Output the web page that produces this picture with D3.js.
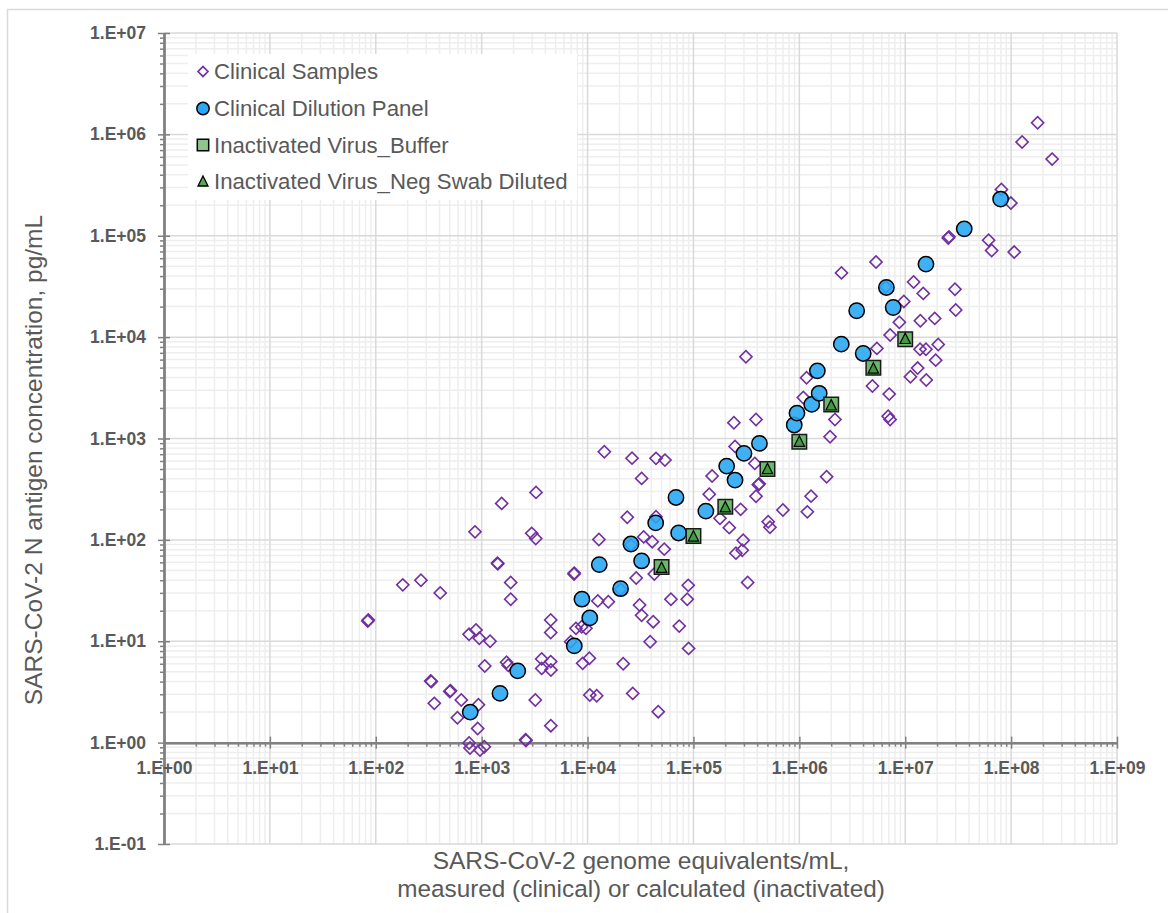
<!DOCTYPE html>
<html><head><meta charset="utf-8">
<script src="https://cdn.jsdelivr.net/npm/d3@7"></script>
<style>
body{margin:0;background:#fff;}
svg{display:block;}
text{font-family:"Liberation Sans",Arial,sans-serif;}
</style>
</head><body>
<svg id="chart" width="1168" height="913"></svg>
<script>
// ---------- DATA ----------
const xTickValues = [1,1e1,1e2,1e3,1e4,1e5,1e6,1e7,1e8,1e9];
const yTickValues = [1e-1,1,1e1,1e2,1e3,1e4,1e5,1e6,1e7];
const xTickLabels = ["1.E+00","1.E+01","1.E+02","1.E+03","1.E+04","1.E+05","1.E+06","1.E+07","1.E+08","1.E+09"];
const yTickLabels = ["1.E-01","1.E+00","1.E+01","1.E+02","1.E+03","1.E+04","1.E+05","1.E+06","1.E+07"];

const seriesNames = ["Clinical Samples","Clinical Dilution Panel","Inactivated Virus_Buffer","Inactivated Virus_Neg Swab Diluted"];

// Clinical Samples [genome eq/mL, pg/mL]
const clinicalSamples = [
[85,16.2],[84,15.8],[180,36],[267,40],[406,30],[865,120],[1410,59],[1420,58],
[760,11.7],[884,12.9],[950,10.7],[1200,10],[1070,5.7],[330,4.05],[335,4.0],[508,3.25],[500,3.2],
[357,2.44],[642,2.63],[933,2.36],[590,1.76],[917,1.38],[760,0.99],[776,0.885],[964,0.845],[1060,0.91],
[2600,1.07],[2620,1.05],[4500,1.47],
[1.44e4,740],[2.63e4,640],[4.43e4,637],[5.38e4,612],[3.24e4,404],[3260,294],[1545,229],[2970,116],[3240,103],
[1880,38],[1880,26],[7490,47],[7450,46],[1.28e4,101],[2.37e4,167],[4.43e4,169],[3.39e4,107],[4.08e4,96],[5.3e4,81],
[2.88e4,42],[4.27e4,46],[8.93e4,35.6],[8.74e4,26],[6.13e4,26],[1.25e4,25],[1.57e4,24.5],[3.1e4,22.8],[3.24e4,18],
[4.17e4,15.6],[7.34e4,14.1],[3.9e4,9.9],[9.0e4,8.5],[2.05e4,32.5],[4490,16.2],[4490,12.2],[7770,13.4],[8800,13.9],
[9660,13.4],[6930,9.9],[1.04e4,6.8],[8990,6.05],[2.17e4,6.0],[2.67e4,3.06],[4.65e4,2.02],[1.05e4,2.95],[1.22e4,2.9],
[3690,6.7],[4490,6.3],[3690,5.4],[4510,5.2],[3210,2.63],[1720,6.2],[1780,5.8],[2.57e4,89],
[6.55e7,7.16e4],[5.3e6,5.5e4],[2.5e6,4.3e4],[1.2e7,3.5e4],[1.48e7,2.7e4],[2.95e7,2.97e4],[9.7e6,2.25e4],[3.0e7,1.85e4],
[8.8e6,1.4e4],[1.39e7,1.45e4],[1.9e7,1.53e4],[7.2e6,1.05e4],[5.4e6,7740],[1.38e7,7600],[1.57e7,7600],[2.05e7,8470],
[1.94e7,5930],[1.31e7,4950],[1.12e7,4060],[1.58e7,3770],[4.9e6,3290],[7.06e6,2740],[3.13e5,6400],[1.17e6,3970],
[1.09e6,2540],[2.17e6,1540],[1.95e6,1040],[6.9e6,1660],[7.2e6,1540],[2.41e5,1430],[3.9e5,1540],[2.47e5,836],
[3.8e5,568],[4.18e5,357],[4.1e5,350],[3.9e5,269],[1.5e5,426],[1.41e5,282],[1.81e6,419],[1.29e6,270],[7.0e5,197],
[1.19e6,189],[2.79e5,200],[1.78e5,163],[2.18e5,132],[5.08e5,151],[5.28e5,133],[2.95e5,99],[2.89e5,79],[2.52e5,74],
[3.25e5,38],[6.57e6,3.13e4],[1.78e8,1.3e6],[1.27e8,8.4e5],[2.44e8,5.7e5],[8.1e7,2.86e5],[9.95e7,2.1e5],
[2.59e7,9.75e4],[2.55e7,9.5e4],[6.13e7,9.05e4],[1.07e8,6.9e4]
];

// Clinical Dilution Panel
const dilutionPanel = [
[780,2.0],[1490,3.06],[2190,5.1],[7490,9.0],[8850,26],[1.05e4,17],[1.29e4,57],[2.05e4,33],[2.57e4,91],
[3.24e4,62],[4.4e4,147],[6.84e4,262],[7.25e4,117],[1.31e5,192],[2.06e5,534],[2.47e5,389],[3.0e5,713],
[4.2e5,895],[8.95e5,1360],[9.5e5,1780],[1.31e6,2170],[1.48e6,4650],[1.54e6,2790],[2.49e6,8530],
[3.48e6,1.82e4],[4.01e6,6900],[6.64e6,3.09e4],[7.7e6,1.96e4],[1.57e7,5.25e4],[3.61e7,1.17e5],[7.96e7,2.3e5]
];

// Inactivated virus
const virusX = [5e4,1e5,2e5,5e5,1e6,2e6,5e6,1e7];
const virusBufferY = [54,109,212,499,928,2170,4980,9550];
const virusNegSwabY = [53,108,210,500,930,2120,4900,9600];

// ---------- CHART ----------
const svg = d3.select("#chart");
const x = d3.scaleLog().domain([1,1e9]).range([164,1117]);
const y = d3.scaleLog().domain([0.1,1e7]).range([844,33]);
const axisColor = "#808080", textColor = "#595959";

// outer chart border
svg.append("rect").attr("x",7.5).attr("y",9.5).attr("width",1200).attr("height",960)
  .attr("fill","#fff").attr("stroke","#d9d9d9").attr("stroke-width",1.5);

const isMajor = v => Math.abs(Math.log10(v) - Math.round(Math.log10(v))) < 1e-9;
const xAll = x.ticks(); const yAll = y.ticks();
const xMinor = xAll.filter(v => !isMajor(v));
const yMinor = yAll.filter(v => !isMajor(v));

const grid = svg.append("g");
grid.selectAll(".vmin").data(xMinor).join("line")
  .attr("x1",d=>x(d)).attr("x2",d=>x(d)).attr("y1",y(1e7)).attr("y2",y(0.1))
  .attr("stroke","#eeeeee").attr("stroke-width",1.5);
grid.selectAll(".hmin").data(yMinor).join("line")
  .attr("y1",d=>y(d)).attr("y2",d=>y(d)).attr("x1",x(1)).attr("x2",x(1e9))
  .attr("stroke","#eeeeee").attr("stroke-width",1.5);
grid.selectAll(".vmaj").data(xTickValues).join("line")
  .attr("x1",d=>x(d)).attr("x2",d=>x(d)).attr("y1",y(1e7)).attr("y2",y(0.1))
  .attr("stroke","#d9d9d9").attr("stroke-width",1.5);
grid.selectAll(".hmaj").data(yTickValues).join("line")
  .attr("y1",d=>y(d)).attr("y2",d=>y(d)).attr("x1",x(1)).attr("x2",x(1e9))
  .attr("stroke","#d9d9d9").attr("stroke-width",1.5);

// axes
const y0 = y(1);
const yAxis = d3.axisLeft(y).tickValues(yTickValues)
  .tickFormat((d,i)=>yTickLabels[i]).tickSize(6).tickSizeOuter(0).tickPadding(12);
const yAxisMinor = d3.axisLeft(y).tickValues(yMinor).tickFormat("").tickSize(4).tickSizeOuter(0);
const xAxis = d3.axisBottom(x).tickValues(xTickValues)
  .tickFormat((d,i)=>xTickLabels[i]).tickSize(6).tickSizeOuter(0).tickPadding(13);
const xAxisMinor = d3.axisBottom(x).tickValues(xMinor).tickFormat("").tickSize(4).tickSizeOuter(0);
const xAxisInner = d3.axisTop(x).tickValues(xTickValues).tickFormat("").tickSize(6).tickSizeOuter(0);
const yAxisInner = d3.axisRight(y).tickValues(yTickValues).tickFormat("").tickSize(6).tickSizeOuter(0);

function styleAxis(g){
  g.select(".domain").attr("stroke",axisColor).attr("stroke-width",2);
  g.selectAll(".tick line").attr("stroke",axisColor).attr("stroke-width",1.5);
  g.selectAll("text").attr("fill",textColor).attr("font-size","17.5px").attr("font-weight","bold")
   .attr("font-family","'Liberation Sans',Arial,sans-serif");
}
svg.append("g").attr("transform",`translate(${x(1)},0)`).call(yAxisMinor).call(styleAxis);
svg.append("g").attr("transform",`translate(${x(1)},0)`).call(yAxisInner).call(styleAxis);
svg.append("g").attr("transform",`translate(${x(1)},0)`).call(yAxis).call(styleAxis);
svg.append("g").attr("transform",`translate(0,${y0})`).call(xAxisMinor).call(styleAxis);
svg.append("g").attr("transform",`translate(0,${y0})`).call(xAxisInner).call(styleAxis);
svg.append("g").attr("transform",`translate(0,${y0})`).call(xAxis).call(styleAxis);

// axis titles
svg.append("text").attr("transform",`translate(42,460) rotate(-90)`)
  .attr("text-anchor","middle").attr("fill",textColor).attr("font-size","24.5px")
  .text("SARS-CoV-2 N antigen concentration, pg/mL");
svg.append("text").attr("x",641).attr("y",869).attr("text-anchor","middle")
  .attr("fill",textColor).attr("font-size","24.5px").text("SARS-CoV-2 genome equivalents/mL,");
svg.append("text").attr("x",641).attr("y",897).attr("text-anchor","middle")
  .attr("fill",textColor).attr("font-size","24.3px").text("measured (clinical) or calculated (inactivated)");

// markers
const diamondPath = d3.symbol(d3.symbolSquare, 74)();
const circlePath = d3.symbol(d3.symbolCircle, 185)();
const squarePath = d3.symbol(d3.symbolSquare, 210)();
const triPath = "M0,-5.8L5.2,4.6L-5.2,4.6Z";

const marks = svg.append("g");
marks.selectAll(".cs").data(clinicalSamples).join("path")
  .attr("d",diamondPath)
  .attr("transform",d=>`translate(${x(d[0])},${y(d[1])}) rotate(45)`)
  .attr("fill","none").attr("stroke","#7030a0").attr("stroke-width",1.6);
marks.selectAll(".dp").data(dilutionPanel).join("path")
  .attr("d",circlePath)
  .attr("transform",d=>`translate(${x(d[0])},${y(d[1])})`)
  .attr("fill","#27a6f5").attr("fill-opacity",0.88).attr("stroke","#000").attr("stroke-width",1.5);
marks.selectAll(".vb").data(virusX.map((v,i)=>[v,virusBufferY[i]])).join("path")
  .attr("d",squarePath)
  .attr("transform",d=>`translate(${x(d[0])},${y(d[1])})`)
  .attr("fill","#6db86d").attr("stroke","#1a1a1a").attr("stroke-width",1.5);
marks.selectAll(".vn").data(virusX.map((v,i)=>[v,virusNegSwabY[i]])).join("path")
  .attr("d",triPath)
  .attr("transform",d=>`translate(${x(d[0])},${y(d[1])})`)
  .attr("fill","#3f9a3f").attr("stroke","#000").attr("stroke-width",1.2);

// legend
const lg = svg.append("g");
lg.append("rect").attr("x",188).attr("y",54).attr("width",389).attr("height",146).attr("fill","#fff");
const legendY = [71.5,108.5,145,181.5];
const lx = 203;
lg.append("path").attr("d",d3.symbol(d3.symbolSquare,50)()).attr("transform",`translate(${lx},${legendY[0]}) rotate(45)`)
  .attr("fill","none").attr("stroke","#7030a0").attr("stroke-width",1.6);
lg.append("path").attr("d",d3.symbol(d3.symbolCircle,120)()).attr("transform",`translate(${lx},${legendY[1]})`)
  .attr("fill","#2ba8f5").attr("stroke","#000").attr("stroke-width",1.5);
lg.append("path").attr("d",d3.symbol(d3.symbolSquare,130)()).attr("transform",`translate(${lx},${legendY[2]})`)
  .attr("fill","#8cc68c").attr("stroke","#000").attr("stroke-width",1.5);
lg.append("path").attr("d","M0,-5.5L5,4.5L-5,4.5Z").attr("transform",`translate(${lx},${legendY[3]})`)
  .attr("fill","#5aa85a").attr("stroke","#000").attr("stroke-width",1.3);
lg.selectAll(".lt").data(seriesNames).join("text")
  .attr("x",214).attr("y",(d,i)=>legendY[i]).attr("dy","0.36em")
  .attr("fill",textColor).attr("font-size","22.2px").text(d=>d);
</script>
</body></html>
